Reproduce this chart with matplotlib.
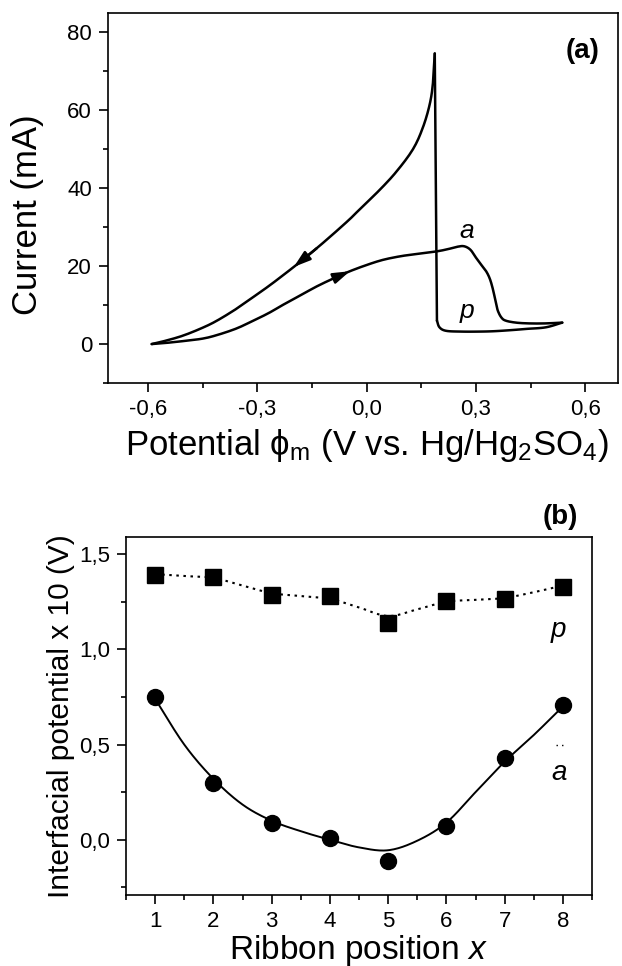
import matplotlib
matplotlib.use("Agg")
import matplotlib.pyplot as plt
import numpy as np
from matplotlib.ticker import AutoMinorLocator, FuncFormatter, MultipleLocator

plt.rcParams['font.family'] = ['Liberation Sans', 'DejaVu Sans']
plt.rcParams['mathtext.fontset'] = 'custom'
plt.rcParams['mathtext.rm'] = 'Liberation Sans'
plt.rcParams['mathtext.it'] = 'Liberation Sans:italic'

# (a) cyclic voltammogram, anodic sweep then cathodic sweep
up_v = [-0.59, -0.55, -0.50, -0.45, -0.411, -0.36, -0.32, -0.27, -0.229, -0.18,
        -0.137, -0.09, -0.046, 0.0, 0.044, 0.09, 0.127, 0.186, 0.22, 0.25,
        0.268, 0.285, 0.30, 0.315, 0.328, 0.338, 0.346, 0.354, 0.36, 0.37,
        0.382, 0.41, 0.446, 0.49, 0.537]
up_i = [0.0, 0.3, 0.8, 1.4, 2.3, 3.9, 5.6, 7.9, 10.1, 12.6,
        14.8, 16.9, 18.7, 20.3, 21.6, 22.5, 23.0, 23.7, 24.3, 25.0,
        25.1, 24.2, 22.2, 20.3, 18.7, 16.8, 14.3, 11.0, 8.6, 6.8,
        6.0, 5.5, 5.3, 5.3, 5.5]
# return at low current, jump at 0.19 V, then the reactivation branch
back_v = [0.537, 0.492, 0.44, 0.40, 0.35, 0.309, 0.26, 0.218, 0.20, 0.193]
back_i = [5.5, 4.3, 3.9, 3.6, 3.3, 3.2, 3.2, 3.4, 4.3, 6.0]
down_v = [0.187, 0.182, 0.173, 0.154, 0.127, 0.082, 0.036, -0.019, -0.046,
          -0.09, -0.137, -0.18, -0.20, -0.229, -0.27, -0.32, -0.36, -0.411, -0.45,
          -0.503, -0.55, -0.59]
down_i = [74.6, 67.0, 61.5, 55.5, 50.0, 44.3, 39.6, 34.6, 32.1,
          28.4, 24.6, 21.3, 19.8, 17.7, 14.8, 11.5, 8.9, 6.0, 4.2,
          2.2, 0.9, 0.0]

# (b) interfacial potential along the ribbon
positions = [1, 2, 3, 4, 5, 6, 7, 8]
pot_p = [1.39, 1.378, 1.287, 1.278, 1.14, 1.253, 1.266, 1.329]
pot_a = [0.75, 0.30, 0.09, 0.01, -0.11, 0.07, 0.43, 0.71]
fit_x = [1, 1.5, 2, 2.5, 3, 3.5, 4, 4.5, 5, 5.5, 6, 6.5, 7, 7.5, 8]
fit_p = [1.395, 1.385, 1.375, 1.335, 1.295, 1.28, 1.265, 1.22, 1.175, 1.21,
         1.25, 1.26, 1.27, 1.30, 1.335]
fit_a = [0.74, 0.50, 0.32, 0.185, 0.10, 0.045, 0.0, -0.04, -0.055, -0.005,
         0.09, 0.25, 0.41, 0.55, 0.70]


def smooth(xs, ys, n=20):
    """Catmull-Rom curve through the given points."""
    xs = np.asarray(xs, float)
    ys = np.asarray(ys, float)
    px = np.concatenate([[2 * xs[0] - xs[1]], xs, [2 * xs[-1] - xs[-2]]])
    py = np.concatenate([[2 * ys[0] - ys[1]], ys, [2 * ys[-1] - ys[-2]]])
    t = np.linspace(0, 1, n, endpoint=False)
    out_x, out_y = [], []
    for k in range(1, len(px) - 2):
        for p, out in ((px, out_x), (py, out_y)):
            p0, p1, p2, p3 = p[k - 1], p[k], p[k + 1], p[k + 2]
            out.extend(0.5 * (2 * p1 + (-p0 + p2) * t
                              + (2 * p0 - 5 * p1 + 4 * p2 - p3) * t ** 2
                              + (-p0 + 3 * p1 - 3 * p2 + p3) * t ** 3))
    out_x.append(xs[-1])
    out_y.append(ys[-1])
    return np.array(out_x), np.array(out_y)


comma = FuncFormatter(lambda v, pos: f"{v:.1f}".replace('.', ','))
comma0 = FuncFormatter(lambda v, pos: f"{v:.0f}")


def style_axes(ax):
    for side in ('left', 'bottom', 'top', 'right'):
        ax.spines[side].set_linewidth(1.2)
    ax.tick_params(which='both', direction='out', top=False, right=False,
                   labelsize=16, width=1.2, pad=5)
    ax.tick_params(which='major', length=6.5)
    ax.tick_params(which='minor', length=3.5)
    ax.xaxis.set_minor_locator(AutoMinorLocator(2))
    ax.yaxis.set_minor_locator(AutoMinorLocator(2))


fig = plt.figure(figsize=(6.22, 9.66), dpi=100)

# ---- panel (a)
ax1 = fig.add_axes([108 / 622, 1 - 383 / 966, 510 / 622, 370 / 966])
line_kw = dict(color='black', lw=1.8, solid_joinstyle='round',
               solid_capstyle='round')
sx, sy = smooth(up_v, up_i, 8)
ax1.plot(sx, sy, **line_kw)
sx, sy = smooth(back_v, back_i, 8)
ax1.plot(sx, sy, **line_kw)
ax1.plot([back_v[-1], down_v[0]], [back_i[-1], down_i[0]], **line_kw)
sx, sy = smooth(down_v, down_i, 8)
ax1.plot(sx, sy, **line_kw)
ax1.set_xlim(-0.71, 0.69)
ax1.set_ylim(-10, 85)
ax1.xaxis.set_major_locator(MultipleLocator(0.3))
ax1.yaxis.set_major_locator(MultipleLocator(20))
ax1.xaxis.set_major_formatter(comma)
ax1.yaxis.set_major_formatter(comma0)
style_axes(ax1)

# direction arrows on the two sweeps
arrow_kw = dict(arrowstyle='-|>,head_length=1.0,head_width=0.32', color='black',
                lw=1.8, shrinkA=0, shrinkB=0)
k = up_v.index(-0.09)
ax1.annotate('', xy=(up_v[k + 1], up_i[k + 1]), xytext=(up_v[k], up_i[k]),
             arrowprops=arrow_kw)
k = down_v.index(-0.137)
ax1.annotate('', xy=(down_v[k + 2], down_i[k + 2]), xytext=(down_v[k], down_i[k]),
             arrowprops=arrow_kw)

ax1.text(0.275, 29.0, 'a', fontsize=19, style='italic', ha='center', va='center')
ax1.text(0.275, 8.5, 'p', fontsize=19, style='italic', ha='center', va='center')

ax1.set_ylabel('Current (mA)', fontsize=25)
ax1.yaxis.set_label_coords(-0.157, 0.454)
ax1.yaxis.label.set_va('center')
fig.text(367 / 622, 1 - 446 / 966,
         'Potential ϕ$_\\mathregular{m}$ (V vs. Hg/Hg$_\\mathregular{2}$SO$_\\mathregular{4}$)',
         fontsize=25, ha='center', va='center')
fig.text(583 / 622, 1 - 51 / 966, '(a)', fontsize=20, fontweight='bold',
         ha='center', va='center')

# ---- panel (b)
ax2 = fig.add_axes([126 / 622, 1 - 895 / 966, 466 / 622, 358 / 966])
sx, sy = smooth(fit_x, fit_p)
ax2.plot(sx, sy, color='black', lw=1.5, linestyle=(0, (1.2, 2.2)))
sx, sy = smooth(fit_x, fit_a)
ax2.plot(sx, sy, color='black', lw=1.4)
ax2.plot(positions, pot_p, linestyle='none', marker='s', markersize=11,
         color='black')
ax2.plot(positions, pot_a, linestyle='none', marker='o', markersize=11.5,
         color='black')
ax2.plot([7.88, 8.02], [0.5, 0.5], color='black', lw=1.0, linestyle=(0, (1, 3)))
ax2.set_xlim(0.5, 8.5)
ax2.set_ylim(-0.29, 1.59)
ax2.xaxis.set_major_locator(MultipleLocator(1))
ax2.yaxis.set_major_locator(MultipleLocator(0.5))
ax2.yaxis.set_major_formatter(comma)
style_axes(ax2)

ax2.text(7.93, 1.10, 'p', fontsize=20, style='italic', ha='center', va='center')
ax2.text(7.93, 0.35, 'a', fontsize=20, style='italic', ha='center', va='center')

ax2.set_ylabel('Interfacial potential x 10 (V)', fontsize=21.5)
ax2.yaxis.set_label_coords(-0.139, 0.5)
ax2.yaxis.label.set_va('center')
ax2.set_xlabel('Ribbon position $\\mathregular{\\mathit{x}}$', fontsize=24)
ax2.xaxis.set_label_coords(0.5, -0.154)
ax2.xaxis.label.set_va('center')
fig.text(560 / 622, 1 - 517 / 966, '(b)', fontsize=20, fontweight='bold',
         ha='center', va='center')

fig.savefig('out.png', dpi=100)
